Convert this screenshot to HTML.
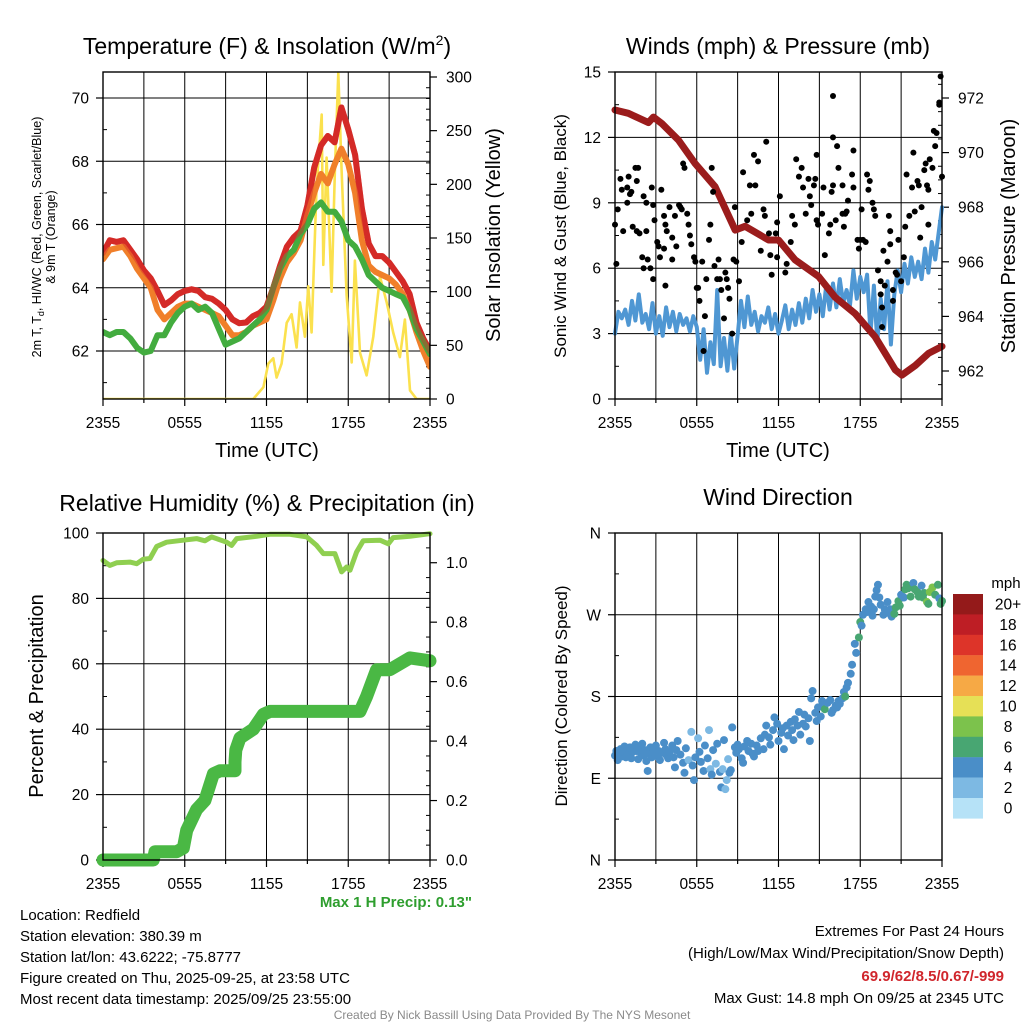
<!DOCTYPE html>
<html><head><meta charset="utf-8"><style>
html,body{margin:0;padding:0;background:#fff;}
svg{display:block;font-family:"Liberation Sans",Arial,sans-serif;}
</style></head><body>
<svg id="root" width="1024" height="1024" viewBox="0 0 1024 1024" xmlns="http://www.w3.org/2000/svg">
<rect width="1024" height="1024" fill="#fff"/>
<text x="267" y="54" font-size="23" text-anchor="middle">Temperature (F) &amp; Insolation (W/m<tspan font-size="14" dy="-9">2</tspan><tspan dy="9">)</tspan></text>
<text x="778" y="54" font-size="23" text-anchor="middle">Winds (mph) &amp; Pressure (mb)</text>
<text x="267" y="511" font-size="23" text-anchor="middle">Relative Humidity (%) &amp; Precipitation (in)</text>
<text x="778" y="505" font-size="23" text-anchor="middle">Wind Direction</text>

<g transform="translate(41,237) rotate(-90)">
<text x="0" y="0" font-size="12.5" text-anchor="middle">2m T, T<tspan font-size="9" dy="3">d</tspan><tspan dy="-3">, HI/WC (Red, Green, Scarlet/Blue)</tspan></text>
<text x="0" y="14" font-size="12.5" text-anchor="middle">&amp; 9m T (Orange)</text>
</g>
<text transform="translate(500,235) rotate(-90)" font-size="20" text-anchor="middle">Solar Insolation (Yellow)</text>
<text x="267" y="457" font-size="20" text-anchor="middle">Time (UTC)</text>
<text transform="translate(566,236) rotate(-90)" font-size="17" text-anchor="middle">Sonic Wind &amp; Gust (Blue, Black)</text>
<text transform="translate(1015,236) rotate(-90)" font-size="20" text-anchor="middle">Station Pressure (Maroon)</text>
<text x="778" y="457" font-size="20" text-anchor="middle">Time (UTC)</text>
<text transform="translate(43,696) rotate(-90)" font-size="20" text-anchor="middle">Percent &amp; Precipitation</text>
<text x="472" y="907" font-size="15" font-weight="bold" fill="#2e9e2e" text-anchor="end">Max 1 H Precip: 0.13"</text>
<text transform="translate(567,696) rotate(-90)" font-size="17" text-anchor="middle">Direction (Colored By Speed)</text>
<text x="1006" y="588" font-size="15" text-anchor="middle">mph</text>

<g font-size="15">
<text x="20" y="920">Location: Redfield</text>
<text x="20" y="941">Station elevation: 380.39 m</text>
<text x="20" y="962">Station lat/lon: 43.6222; -75.8777</text>
<text x="20" y="983">Figure created on Thu, 2025-09-25, at 23:58 UTC</text>
<text x="20" y="1004">Most recent data timestamp: 2025/09/25 23:55:00</text>
</g>
<g font-size="15" text-anchor="end">
<text x="1004" y="936">Extremes For Past 24 Hours</text>
<text x="1004" y="958">(High/Low/Max Wind/Precipitation/Snow Depth)</text>
<text x="1004" y="981" font-weight="bold" fill="#d0262c">69.9/62/8.5/0.67/-999</text>
<text x="1004" y="1003">Max Gust: 14.8 mph On 09/25 at 2345 UTC</text>
</g>
<text x="512" y="1019" font-size="12" fill="#8a8a8a" text-anchor="middle">Created By Nick Bassill Using Data Provided By The NYS Mesonet</text>
</svg>
<script>
// ---------- data ----------
const tHalf = [0,0.5,1,1.5,2,2.5,3,3.5,4,4.5,5,5.5,6,6.5,7,7.5,8,8.5,9,9.5,10,10.5,11,11.5,12,12.5,13,13.5,14,14.5,15,15.5,16,16.5,17,17.5,18,18.5,19,19.5,20,20.5,21,21.5,22,22.5,23,23.5,24];
const tQuarter = [0,0.25,0.5,0.75,1,1.25,1.5,1.75,2,2.25,2.5,2.75,3,3.25,3.5,3.75,4,4.25,4.5,4.75,5,5.25,5.5,5.75,6,6.25,6.5,6.75,7,7.25,7.5,7.75,8,8.25,8.5,8.75,9,9.25,9.5,9.75,10,10.25,10.5,10.75,11,11.25,11.5,11.75,12,12.25,12.5,12.75,13,13.25,13.5,13.75,14,14.25,14.5,14.75,15,15.25,15.5,15.75,16,16.25,16.5,16.75,17,17.25,17.5,17.75,18,18.25,18.5,18.75,19,19.25,19.5,19.75,20,20.25,20.5,20.75,21,21.25,21.5,21.75,22,22.25,22.5,22.75,23,23.25,23.5,23.75,24];
const temp2m = [65.1,65.5,65.45,65.5,65.2,64.9,64.55,64.3,63.9,63.45,63.6,63.8,63.9,63.95,63.9,63.7,63.65,63.5,63.3,63.0,62.88,62.9,63.1,63.2,63.4,64.0,64.7,65.3,65.6,65.8,66.6,67.8,68.5,68.8,68.6,69.7,69.0,68.2,66.5,65.4,65.0,65.0,64.8,64.5,64.2,63.8,62.9,62.4,62.0];
const temp9m = [64.9,65.2,65.25,65.3,65.0,64.6,64.3,64.0,63.3,63.0,63.2,63.4,63.5,63.5,63.4,63.3,63.2,63.1,62.8,62.5,62.5,62.6,62.8,62.9,63.0,63.6,64.3,64.8,65.1,65.5,66.3,67.0,67.6,67.3,67.9,68.4,67.9,67.0,65.5,64.7,64.5,64.4,64.3,64.1,63.8,63.3,62.6,62.0,61.5];
const dewpoint = [62.6,62.5,62.6,62.6,62.4,62.1,61.95,62.0,62.5,62.5,62.9,63.2,63.4,63.5,63.3,63.4,63.2,62.7,62.2,62.3,62.4,62.6,62.8,63.0,63.3,64.0,64.6,65.0,65.2,65.7,66.0,66.5,66.7,66.4,66.4,66.1,65.5,65.3,64.9,64.4,64.2,64.0,63.9,63.8,63.7,63.3,62.7,62.3,61.9];
const solarT = [0,11.03,11.77,12.13,12.5,12.74,13.11,13.48,13.84,14.21,14.46,14.82,15.07,15.31,15.68,16.05,16.17,16.41,16.78,17.02,17.27,17.51,17.88,18.25,18.49,18.86,19.35,19.84,20.33,20.82,21.3,21.79,22.16,22.53,23.02,24];
const solarW = [0,0,11,33,38,20,33,71,79,48,90,58,105,62,198,265,125,225,100,213,304,213,97,34,129,43,22,58,114,90,62,39,74,8,0,0];
const windMph = [3.0,4.0,3.7,4.1,3.4,4.5,3.6,4.8,3.5,3.9,3.2,4.4,3.0,3.8,2.9,4.2,3.3,4.0,3.1,3.9,3.4,3.7,3.1,3.8,3.3,1.8,3.2,1.2,2.6,1.6,5.0,1.5,2.8,1.3,3.0,1.4,2.9,4.5,3.3,4.7,3.4,4.0,3.1,3.8,3.5,4.2,3.2,3.9,3.0,3.6,4.3,3.2,4.1,3.4,4.4,3.5,4.6,3.7,5.0,4.0,4.8,3.8,5.2,4.1,5.3,4.2,5.5,4.4,5.0,4.3,5.9,4.6,5.6,4.9,5.7,3.0,5.2,2.6,4.6,3.2,5.4,2.5,4.8,5.9,4.9,6.2,5.3,6.5,5.6,6.3,5.5,6.9,5.8,7.2,6.4,7.6,8.8];
const pressT = [0,0.98,2.45,2.82,3.43,4.65,5.88,7.35,8.82,9.55,11.27,12.0,13.22,14.94,16.16,17.63,19.1,20.57,21.06,22.04,23.02,24];
const pressMb = [971.56,971.44,971.1,971.3,971.07,970.46,969.6,968.75,967.16,967.3,966.8,966.8,966.07,965.46,964.7,964.1,963.25,962.04,961.85,962.2,962.65,962.9];
const gustT = [0,0.1,0.2,0.4,0.5,0.6,0.9,1.0,0.9,1.1,1.2,1.5,1.6,1.7,1.3,1.6,1.8,2.0,2.1,2.1,2.3,2.3,2.4,2.6,2.7,2.8,2.9,2.8,3.1,3.2,3.3,3.4,3.6,3.6,3.7,3.7,3.8,4.0,4.2,4.2,4.4,4.5,4.7,4.8,4.9,5.0,5.1,5.3,5.4,5.5,5.6,5.8,5.9,6.0,6.1,6.2,6.4,6.5,6.6,6.7,6.9,7.0,7.1,7.2,7.3,7.5,7.6,7.7,7.8,8.0,8.1,8.2,8.3,8.4,8.6,8.7,8.8,8.9,9.1,9.3,9.4,9.7,9.9,10.0,10.2,10.3,10.5,10.7,10.9,11.0,11.1,11.3,11.4,11.5,11.8,11.9,11.9,12.1,12.5,12.6,12.9,13.0,13.2,13.3,13.5,13.7,13.8,14.0,14.2,14.3,14.4,14.6,14.7,14.8,14.8,14.9,15.2,15.3,15.4,15.7,15.8,15.9,16.0,16.0,16.0,16.2,16.3,16.4,16.7,16.7,16.8,16.9,17.0,17.1,17.4,17.5,17.5,17.8,17.9,18.0,18.1,18.2,18.4,18.5,18.6,18.7,18.9,19.0,19.1,19.3,19.5,19.5,19.6,19.6,19.7,19.8,20.0,20.1,20.2,20.2,20.4,20.4,20.6,20.7,20.8,21.0,21.2,21.3,21.4,21.6,21.8,21.9,22.0,22.2,22.3,22.4,22.5,22.7,22.8,22.9,23.0,23.1,23.3,23.4,23.5,23.6,23.8,23.9,24.0,23.8,23.0];
const gustMph = [8.0,6.2,8.7,10.1,9.6,7.7,9.7,10.2,9.0,9.4,9.5,10.6,10.0,10.6,7.9,7.7,7.6,6.5,9.3,6.0,9.0,7.7,6.4,6.0,9.7,8.9,8.2,5.5,7.2,7.0,6.5,9.6,6.9,8.4,8.0,5.2,7.7,8.8,7.4,6.4,8.4,7.0,8.9,8.8,8.7,10.8,10.6,8.5,8.0,7.5,7.1,6.5,6.3,5.1,5.1,4.5,6.3,2.2,3.8,5.5,7.3,8.0,10.6,9.5,6.1,5.5,6.4,5.5,5.0,3.7,5.8,5.5,5.1,4.6,3.0,6.4,8.8,6.3,5.4,7.2,10.4,8.2,9.8,8.5,11.2,9.8,10.9,6.8,8.7,8.4,11.8,7.6,6.6,5.7,7.6,8.1,6.5,9.3,5.8,6.2,7.2,8.4,8.0,11.0,10.2,10.6,9.7,8.5,10.1,9.3,8.9,9.8,10.1,11.2,8.2,8.0,8.5,9.7,6.6,7.6,8.0,9.5,12.0,9.8,13.9,8.2,11.6,10.6,9.8,8.5,7.9,8.5,8.6,9.1,10.3,11.4,9.7,7.3,6.9,7.3,8.7,7.3,7.2,10.3,9.6,10.0,9.0,8.7,8.4,5.9,5.4,4.8,4.2,3.3,6.8,5.2,6.3,8.4,7.7,7.1,5.0,4.5,5.8,5.7,7.3,5.4,6.5,7.9,10.3,8.4,9.7,11.3,8.6,10.0,9.8,7.4,8.8,10.5,10.8,9.8,8.0,11.0,10.6,12.3,11.6,12.2,13.6,14.8,10.2,13.5,9.6];
const rhT = [0,0.51,1.0,1.98,2.47,2.96,3.45,3.94,4.67,5.89,6.87,7.48,7.97,9.07,9.44,9.81,11.28,12.25,13.72,14.95,15.68,16.17,17.02,17.51,17.88,18.13,18.61,19.1,20.33,20.94,21.3,22.53,24];
const rhPct = [91.6,90.1,90.9,91.1,90.6,92,92.2,95.9,97.2,97.8,98.3,97.6,98.8,97.2,96.2,98.3,99,99.6,99.6,98.8,96.2,93.7,93.7,88.1,89.6,88.6,94.2,97.6,97.8,96.7,98.6,99,99.8];
const precipT = [0,3.69,3.82,5.41,5.89,6.14,6.87,7.48,8.1,8.59,9.69,9.69,9.75,10.05,11.03,11.77,12.25,18.86,19.35,20.08,21.06,22.53,24];
const precipIn = [0,0,0.028,0.028,0.04,0.10,0.17,0.20,0.29,0.30,0.30,0.33,0.37,0.41,0.44,0.49,0.50,0.50,0.55,0.64,0.64,0.68,0.67];
const dirT = [0.0,0.1,0.2,0.3,0.4,0.5,0.6,0.7,0.8,0.9,1.0,1.1,1.2,1.3,1.5,1.6,1.7,1.8,1.9,2.0,2.1,2.2,2.3,2.4,2.5,2.6,2.7,2.8,3.0,3.1,3.2,3.3,3.5,3.6,3.7,3.8,3.9,4.0,4.2,4.3,4.4,4.5,4.6,4.8,5.0,5.1,5.2,5.4,5.6,5.7,5.8,5.9,6.1,6.2,6.3,6.5,6.6,6.8,6.9,7.0,7.1,7.2,7.4,7.5,7.7,7.8,7.9,8.0,8.1,8.2,8.3,8.4,8.5,8.6,8.8,8.9,9.0,9.1,9.3,9.4,9.5,9.7,9.8,10.0,10.1,10.2,10.4,10.5,10.7,10.9,11.0,11.1,11.3,11.4,11.6,11.7,11.9,12.0,12.2,12.3,12.4,12.6,12.7,12.9,13.0,13.1,13.2,13.4,13.5,13.6,13.8,13.9,14.0,14.2,14.3,14.4,14.5,14.7,14.8,14.9,15.1,15.2,15.3,15.4,15.6,15.8,15.9,16.0,16.2,16.3,16.4,16.5,16.7,16.8,16.9,17.0,17.1,17.3,17.4,17.6,17.7,17.9,18.0,18.1,18.2,18.4,18.5,18.6,18.8,18.9,19.0,19.1,19.2,19.3,19.4,19.5,19.7,19.8,19.9,20.0,20.2,20.3,20.4,20.5,20.6,20.8,20.9,21.0,21.2,21.3,21.4,21.5,21.7,21.8,21.9,22.0,22.2,22.3,22.5,22.6,22.7,22.9,23.0,23.1,23.3,23.5,23.7,23.8,23.9,24.0];
const dirDeg = [115,120,110,118,122,114,119,125,113,121,117,124,112,119,127,120,111,123,118,128,115,121,109,98,117,124,113,119,126,114,120,110,118,129,122,115,112,119,126,113,102,121,131,116,107,96,123,110,141,104,88,113,134,119,108,98,126,112,143,100,94,121,106,128,97,80,100,132,78,88,111,96,99,146,124,118,127,122,112,107,125,131,120,128,117,114,126,120,134,122,138,148,135,127,143,157,150,131,140,145,122,148,137,152,143,132,155,148,163,138,150,160,147,156,131,178,186,162,153,168,158,175,170,166,173,176,162,165,170,168,175,172,178,185,180,190,195,205,215,238,228,245,262,258,270,276,273,284,279,269,276,290,297,303,289,281,270,276,272,284,276,268,274,271,278,285,280,292,289,298,303,299,290,301,305,298,295,290,302,289,294,284,282,295,300,292,303,288,282,285];
const dirSpd = [3,4,4,4,4,4,4,4,3,4,4,4,4,3,4,4,4,3,4,3,3,4,4,4,4,3,4,4,4,3,4,4,4,4,4,3,4,4,4,3,4,4,4,3,3,4,3,2,1,3,4,3,2,3,4,3,3,4,1,2,4,3,2,3,3,3,2,3,2,1,2,4,4,4,4,4,4,4,4,4,4,3,4,4,4,4,4,3,3,4,3,3,3,4,4,3,4,3,4,4,4,3,4,4,4,3,4,4,4,4,4,4,4,4,4,4,3,3,4,4,4,4,4,6,4,4,4,4,4,4,4,4,4,4,6,4,4,4,4,4,4,6,6,4,4,3,4,4,4,3,4,3,4,4,3,3,4,4,4,4,4,4,4,6,6,6,6,4,4,6,6,6,6,6,4,6,6,6,4,6,6,8,6,8,8,6,6,4,6,6,8,4];
const speedBinLabels = ["20+","18","16","14","12","10","8","6","4","2","0"];
const speedBinColors = ["#941a1a","#be1e25","#dd3429","#ef6530","#f6a945","#e6e056","#7cc24c","#48a672","#4a8ec8","#7db9e3","#b6e2f7"];

// ---------- helpers ----------
const NS = "http://www.w3.org/2000/svg";
const root = document.getElementById("root");
function mk(tag, attrs, parent){ const e=document.createElementNS(NS,tag); for(const k in attrs) e.setAttribute(k,attrs[k]); (parent||root).appendChild(e); return e; }
function lin(d0,d1,r0,r1){ return v => r0 + (v-d0)/(d1-d0)*(r1-r0); }
function fmtTime(h){ const hh=[ "2355","0555","1155","1755","2355" ]; return hh[Math.round(h/6)]; }

function panel(name, x0,x1,y0,y1){
  const g = mk("g",{});
  
  
  const xs = lin(0,24,x0,x1);
  for(let h=3; h<24; h+=3){
    const l = mk("line",{x1:xs(h),x2:xs(h),y1:y0,y2:y1,stroke:"#000","stroke-width":1},g);
    
    
  }
  for(let h=0; h<=24; h+=3){
    const t = mk("line",{x1:xs(h),x2:xs(h),y1:y1,y2:y1+(h%6===0?7:4),stroke:"#000","stroke-width":1.2},g);
    
    
    if(h%6===0){
      const tx = mk("text",{x:xs(h),y:y1+29,"font-size":15.5,"text-anchor":"middle"},g);
      tx.textContent = fmtTime(h);
      
      
    }
  }
  return {g, xs};
}
function frame(g,x0,x1,y0,y1){
  const r = mk("rect",{x:x0,y:y0,width:x1-x0,height:y1-y0,fill:"none",stroke:"#000","stroke-width":1.4},g);
  
  
}
function yAxis(g, ys, vals, labels, side, x, grid, x0, x1, minors){
  vals.forEach((v,i)=>{
    const y = ys(v);
    if(grid){
      const gl = mk("line",{x1:x0,x2:x1,y1:y,y2:y,stroke:"#000","stroke-width":1},g);
      
      
    }
    const dx = side==="left"?-7:7;
    const tk = mk("line",{x1:x,x2:x+dx,y1:y,y2:y,stroke:"#000","stroke-width":1.2},g);
    
    
    const tx = mk("text",{x: side==="left"? x-14 : x+16, y:y+5.5,"font-size":15.5,"text-anchor": side==="left"?"end":"start"},g);
    tx.textContent = labels[i];
    
    
  });
  (minors||[]).forEach(v=>{
    const y=ys(v); const dx = side==="left"?4:-4;
    const mt = mk("line",{x1:x,x2:x+dx,y1:y,y2:y,stroke:"#000","stroke-width":1},g);
    
    
  });
}
function path(g, xs, ys, T, V, attrs, name){
  let d=""; T.forEach((t,i)=>{ d += (i?"L":"M")+xs(t).toFixed(1)+","+ys(V[i]).toFixed(1); });
  const p = mk("path",Object.assign({d:d,fill:"none","stroke-linejoin":"round","stroke-linecap":"round"},attrs),g);
  
  
  return p;
}
function range(a,b,s){ const r=[]; for(let v=a; v<=b+1e-9; v+=s) r.push(+v.toFixed(3)); return r; }

// ---------- Panel 1: temperature ----------
{
  const X0=103,X1=430,Y0=72,Y1=399;
  const {g,xs} = panel("temperature-insolation-chart",X0,X1,Y0,Y1);
  const yT = lin(62,70,351,98);
  const yS = lin(0,300,399,77);
  yAxis(g,yT,[62,64,66,68,70],["62","64","66","68","70"],"left",X0,true,X0,X1,[61,63,65,67,69]);
  yAxis(g,yS,[0,50,100,150,200,250,300],["0","50","100","150","200","250","300"],"right",X1,false,X0,X1,range(10,300,10).filter(v=>v%50!==0));
  const cp = mk("clipPath",{id:"c1"},g); mk("rect",{x:X0,y:Y0,width:X1-X0,height:Y1-Y0},cp);
  const cg = mk("g",{"clip-path":"url(#c1)"},g);
  
  
  path(cg,xs,yS,solarT,solarW,{stroke:"#fbe14e","stroke-width":2.6},"solar-insolation-line");
  path(cg,xs,yT,tHalf,temp2m,{stroke:"#d42a27","stroke-width":6},"temperature-2m-line");
  path(cg,xs,yT,tHalf,temp9m,{stroke:"#f07f2a","stroke-width":6},"temperature-9m-line");
  path(cg,xs,yT,tHalf,dewpoint,{stroke:"#43ac3f","stroke-width":6},"dewpoint-line");
  path(cg,xs,yT,tHalf,temp2m,{stroke:"#d42a27","stroke-width":6,opacity:0.45},"temperature-2m-overlay");
  frame(g,X0,X1,Y0,Y1);
}

// ---------- Panel 2: winds ----------
{
  const X0=615,X1=942,Y0=72,Y1=399;
  const {g,xs} = panel("winds-pressure-chart",X0,X1,Y0,Y1);
  const yW = lin(0,15,399,72);
  const yP = lin(962,972,371,98);
  yAxis(g,yW,[0,3,6,9,12,15],["0","3","6","9","12","15"],"left",X0,true,X0,X1,[1.5,4.5,7.5,10.5,13.5]);
  yAxis(g,yP,[962,964,966,968,970,972],["962","964","966","968","970","972"],"right",X1,false,X0,X1,range(961.5,972.5,0.5).filter(v=>Math.abs(v%2)>0.01));
  const cp = mk("clipPath",{id:"c2"},g); mk("rect",{x:X0-4,y:Y0-4,width:X1-X0+8,height:Y1-Y0+8},cp);
  const cg = mk("g",{"clip-path":"url(#c2)"},g);
  
  
  path(cg,xs,yW,tQuarter,windMph,{stroke:"#4f97d3","stroke-width":4},"sonic-wind-line");
  path(cg,xs,yP,pressT,pressMb,{stroke:"#9b1c1c","stroke-width":7},"pressure-line");
  gustT.forEach((t,i)=>{
    const c = mk("circle",{cx:xs(t),cy:yW(gustMph[i]),r:3,fill:"#000"},cg);
    
    
  });
  frame(g,X0,X1,Y0,Y1);
}

// ---------- Panel 3: humidity ----------
{
  const X0=103,X1=430,Y0=533,Y1=860;
  const {g,xs} = panel("humidity-precip-chart",X0,X1,Y0,Y1);
  const yR = lin(0,100,860,533);
  const yIn = lin(0,1.1,860,533);
  yAxis(g,yR,[0,20,40,60,80,100],["0","20","40","60","80","100"],"left",X0,true,X0,X1,[10,30,50,70,90]);
  yAxis(g,yIn,[0,0.2,0.4,0.6,0.8,1.0],["0.0","0.2","0.4","0.6","0.8","1.0"],"right",X1,false,X0,X1,range(0.05,1.1,0.05).filter(v=>Math.abs(v*10-Math.round(v*10))>0.01||Math.round(v*10)%2===1));
  path(g,xs,yR,rhT,rhPct,{stroke:"#8fcf50","stroke-width":5},"relative-humidity-line");
  path(g,xs,yIn,precipT,precipIn,{stroke:"#4ab844","stroke-width":13},"precipitation-line");
  frame(g,X0,X1,Y0,Y1);
}

// ---------- Panel 4: wind direction ----------
{
  const X0=615,X1=942,Y0=533,Y1=860;
  const {g,xs} = panel("wind-direction-chart",X0,X1,Y0,Y1);
  const yD = lin(0,360,860,533);
  yAxis(g,yD,[0,90,180,270,360],["N","E","S","W","N"],"left",X0,true,X0,X1,[45,135,225,315]);
  function binColor(s){ const idx = Math.min(10, Math.floor((s+1)/2)); return speedBinColors[10-idx]; }
  dirT.forEach((t,i)=>{
    const c = mk("circle",{cx:xs(t),cy:yD(dirDeg[i]),r:4,fill:binColor(dirSpd[i])},g);
    
    
  });
  frame(g,X0,X1,Y0,Y1);
  const cb = mk("g",{});
  
  
  speedBinLabels.forEach((lab,i)=>{
    const y = 594 + i*20.4;
    const r = mk("rect",{x:953,y:y,width:30,height:20.6,fill:speedBinColors[i]},cb);
    
    
    const tx = mk("text",{x:1008,y:y+15.5,"font-size":15.5,"text-anchor":"middle"},cb);
    tx.textContent = lab;
    
    
  });
}
</script>
</body></html>
